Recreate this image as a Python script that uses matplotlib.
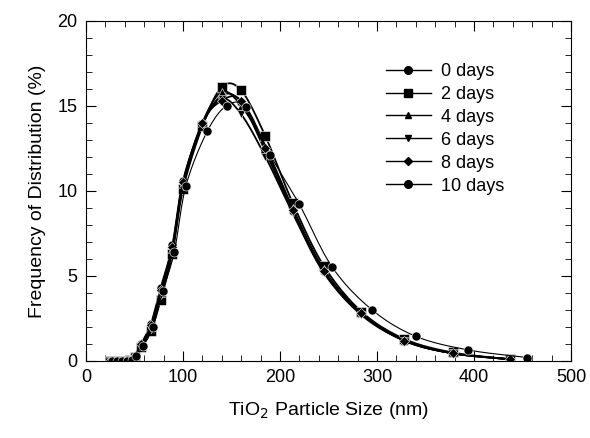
from matplotlib import pyplot as plt
import numpy as np

plt.rcParams['font.family'] = ['Liberation Sans', 'DejaVu Sans']

# particle size (nm) at which each distribution was sampled
size = [25, 30, 35, 40, 45, 50, 57, 67, 77, 89, 100, 120, 140, 160, 185, 213, 245, 284, 328, 378, 437]
size_10 = [27, 32, 37, 42, 47, 52, 59, 69, 79, 91, 103, 125, 145, 165, 190, 220, 254, 295, 340, 394, 455]

# frequency of distribution (%)
d0 = [0, 0, 0, 0, 0.05, 0.3, 1.0, 2.2, 4.3, 6.8, 10.6, 13.9, 15.6, 15.2, 12.3, 8.8, 5.3, 2.8, 1.2, 0.45, 0.1]
d2 = [0, 0, 0, 0, 0.05, 0.25, 0.8, 1.75, 3.6, 6.3, 10.1, 13.8, 16.1, 15.9, 13.2, 9.3, 5.6, 2.9, 1.3, 0.5, 0.1]
d4 = [0, 0, 0, 0, 0.05, 0.3, 0.9, 2.0, 4.0, 6.6, 10.4, 14.0, 15.8, 15.0, 12.6, 9.0, 5.4, 2.8, 1.2, 0.45, 0.1]
d6 = [0, 0, 0, 0, 0.05, 0.3, 0.9, 1.9, 3.9, 6.5, 10.3, 13.9, 15.4, 14.5, 12.0, 8.7, 5.2, 2.7, 1.2, 0.45, 0.1]
d8 = [0, 0, 0, 0, 0.05, 0.3, 1.0, 2.1, 4.2, 6.7, 10.5, 14.0, 15.3, 15.3, 12.5, 8.9, 5.3, 2.8, 1.2, 0.45, 0.1]
d10 = [0, 0, 0, 0, 0.05, 0.3, 0.9, 2.0, 4.1, 6.4, 10.3, 13.5, 15.0, 14.9, 12.1, 9.2, 5.5, 3.0, 1.45, 0.65, 0.2]

labels = ['0 days', '2 days', '4 days', '6 days', '8 days', '10 days']
markers = ['o', 's', '^', 'v', 'D', 'o']


def smooth(x, y, n=12):
    """Catmull-Rom curve through the points, only for drawing the line"""
    x = np.asarray(x, float)
    y = np.asarray(y, float)
    px = np.concatenate([[2 * x[0] - x[1]], x, [2 * x[-1] - x[-2]]])
    py = np.concatenate([[2 * y[0] - y[1]], y, [2 * y[-1] - y[-2]]])
    xs, ys = [], []
    t = np.linspace(0, 1, n, endpoint=False)
    for i in range(1, len(px) - 2):
        for p, out in ((px, xs), (py, ys)):
            p0, p1, p2, p3 = p[i - 1], p[i], p[i + 1], p[i + 2]
            out.extend(0.5 * (2 * p1 + (-p0 + p2) * t + (2 * p0 - 5 * p1 + 4 * p2 - p3) * t ** 2
                              + (-p0 + 3 * p1 - 3 * p2 + p3) * t ** 3))
    xs.append(x[-1])
    ys.append(y[-1])
    return np.array(xs), np.clip(ys, 0, None)


fig = plt.figure(figsize=(5.9, 4.38), dpi=100)
ax = fig.add_axes([0.1458, 0.1758, 0.822, 0.777])

series = [(size, d0), (size, d2), (size, d4), (size, d6), (size, d8), (size_10, d10)]
for (xv, yv), lab, mk in zip(series, labels, markers):
    lw = 0.8 if lab == '10 days' else 1.3
    ms = 5.5 if mk in ('^', 'v', 'D') else 6.5
    sx, sy = smooth(xv, yv)
    ax.plot(sx, sy, '-', color='black', linewidth=lw)
    ax.plot(xv, yv, mk, color='black', markersize=ms, markeredgecolor='white', markeredgewidth=0.4)
    ax.plot([], [], '-', marker=mk, color='black', linewidth=1.0, markersize=ms - 1, label=lab)

ax.set_xlim(0, 500)
ax.set_ylim(0, 20)
ax.set_xticks(np.arange(0, 501, 100))
ax.set_xticks(np.arange(0, 501, 20), minor=True)
ax.set_yticks(np.arange(0, 21, 5))
ax.set_yticks(np.arange(0, 21, 1), minor=True)
ax.tick_params(which='both', direction='in', top=True, right=True, labelsize=13, pad=6)
ax.tick_params(which='major', length=7)
ax.tick_params(which='minor', length=4)
ax.set_xlabel('TiO$_2$ Particle Size (nm)', fontsize=14, labelpad=10)
ax.set_ylabel('Frequency of Distribution (%)', fontsize=14, labelpad=8)

ax.legend(loc='upper left', bbox_to_anchor=(0.618, 0.876), frameon=False, fontsize=13,
          handlelength=2.5, labelspacing=0.33, handletextpad=0.55,
          borderpad=0, borderaxespad=0)

fig.savefig('out.png', dpi=100)
